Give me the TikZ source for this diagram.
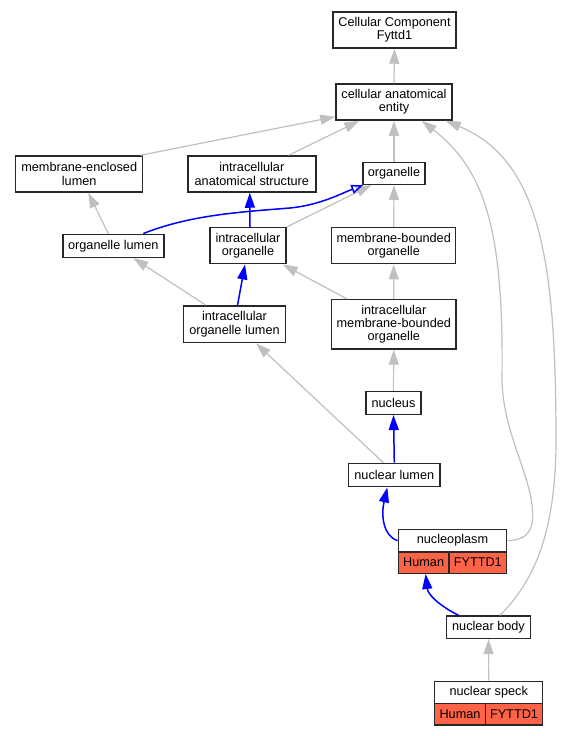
\documentclass[tikz,border=0pt]{standalone}
\usepackage{fontspec}
\setmainfont{Liberation Sans}
\usetikzlibrary{arrows.meta,calc}
\definecolor{edgegray}{RGB}{192,192,192}
\definecolor{tomatored}{RGB}{255,99,71}
\definecolor{edgeblue}{RGB}{0,0,255}
\definecolor{boxline}{RGB}{40,40,40}
\begin{document}
\begin{tikzpicture}[x=1pt,y=-1pt,
  box/.style={draw=boxline, line width=1.5pt, fill=white, inner sep=0pt, align=center,
    font=\fontsize{12.7pt}{13.4pt}\selectfont},
  cell/.style={box, fill=tomatored},
  ge/.style={draw=edgegray, line width=1.2pt, -{Triangle[length=15pt,width=10pt]}},
  be/.style={draw=edgeblue, line width=1.5pt, -{Triangle[length=15pt,width=10pt]}},
  bo/.style={draw=edgeblue, line width=1.5pt, -{Triangle[open,length=12pt,width=9pt]}}]
\fill[white] (0,0) rectangle (560,736);
\useasboundingbox (0,0) rectangle (560,736);
% nodes
\node[box, minimum width=123pt, minimum height=36pt] (ccf) at (394.5,30) {Cellular Component\\Fyttd1};
\node[box, minimum width=116pt, minimum height=36pt] (cae) at (394,102) {cellular anatomical\\entity};
\node[box, minimum width=127pt, minimum height=36pt] (mel) at (79.2,174) {membrane-enclosed\\lumen};
\node[box, minimum width=128pt, minimum height=36pt] (ias) at (251.8,174) {intracellular\\anatomical structure};
\node[box, minimum width=62pt, minimum height=21.6pt] (org) at (394,173.5) {organelle};
\node[box, minimum width=101pt, minimum height=23pt] (ol) at (113.3,245.8) {organelle lumen};
\node[box, minimum width=76pt, minimum height=36pt] (io) at (248,245.7) {intracellular\\organelle};
\node[box, minimum width=124pt, minimum height=36pt] (mbo) at (393.7,245.7) {membrane-bounded\\organelle};
\node[box, minimum width=101.6pt, minimum height=36.7pt] (iol) at (234.5,324.3) {intracellular\\organelle lumen};
\node[box, minimum width=124.3pt, minimum height=49.3pt] (imbo) at (393.8,324.3) {intracellular\\membrane-bounded\\organelle};
\node[box, minimum width=55pt, minimum height=22.6pt] (nuc) at (393.5,403) {nucleus};
\node[box, minimum width=91.3pt, minimum height=23.4pt] (nl) at (394.3,475) {nuclear lumen};
\node[box, minimum width=108.4pt, minimum height=22.7pt] (np) at (452.5,540.6) {nucleoplasm};
\node[cell, minimum width=50.7pt, minimum height=21.3pt] (npH) at (423.6,562.6) {Human};
\node[cell, minimum width=57.7pt, minimum height=21.3pt] (npF) at (477.8,562.6) {FYTTD1};
\node[box, minimum width=84.3pt, minimum height=22.3pt] (nb) at (488.5,627.2) {nuclear body};
\node[box, minimum width=108pt, minimum height=22pt] (ns) at (488.7,692.3) {nuclear speck};
\node[cell, minimum width=50.6pt, minimum height=21.7pt] (nsH) at (460,714.2) {Human};
\node[cell, minimum width=57.4pt, minimum height=21.7pt] (nsF) at (514,714.2) {FYTTD1};
% edges
\draw[ge] (cae.north) -- (ccf.south);
\draw[ge] ($(mel.north east)+(-3,0)$) -- ($(cae.south west)+(0,-4)$);
\draw[ge] ($(ias.north)+(37,0)$) -- ($(cae.south west)+(24,0)$);
\draw[ge] (org.north) -- (cae.south);
\draw[ge] (np.east) .. controls (528,540) and (535,530) .. (532,505)
  .. controls (528,470) and (503,430) .. (502,380)
  .. controls (504,230) and (485,170) .. ($(cae.south east)+(-31,0)$);
\draw[ge] ($(nb.north)+(11.5,0)$) .. controls (530,585) and (556,540) .. (556,440)
  .. controls (556,260) and (540,160) .. ($(cae.south east)+(-7,0)$);
\draw[ge] ($(ol.north)+(-5,0)$) -- ($(mel.south)+(9,0)$);
\draw[ge] (io.north east) -- ($(org.south west)+(9,0)$);
\draw[bo] ($(ol.north)+(30,0)$) .. controls (190,215) and (240,212) .. (290,208)
  .. controls (320,205) and (340,194) .. ($(org.south west)+(1,0)$);
\draw[be] ($(io.north)+(2,0)$) -- ($(ias.south)+(-2,0)$);
\draw[ge] (mbo.north) -- (org.south);
\draw[ge] ($(iol.north west)+(23,0)$) -- ($(ol.south)+(20,0)$);
\draw[be] ($(iol.north)+(3,0)$) -- ($(io.south)+(-3,0)$);
\draw[ge] ($(imbo.north west)+(16,0)$) -- ($(io.south east)+(-4,0)$);
\draw[ge] (imbo.north) -- (mbo.south);
\draw[ge] (nuc.north) -- (imbo.south);
\draw[ge] ($(nl.north)+(-11,0)$) -- ($(iol.south east)+(-30,0)$);
\draw[be] (nl.north) -- (nuc.south);
\draw[be] (np.west) .. controls (383,536) and (381,515) .. ($(nl.south)+(-7,0)$);
\draw[be] ($(nb.north)+(-30,0)$) .. controls (440,606) and (428,595) .. ($(npH.south)+(2,0)$);
\draw[ge] (ns.north) -- (nb.south);
\end{tikzpicture}
\end{document}
